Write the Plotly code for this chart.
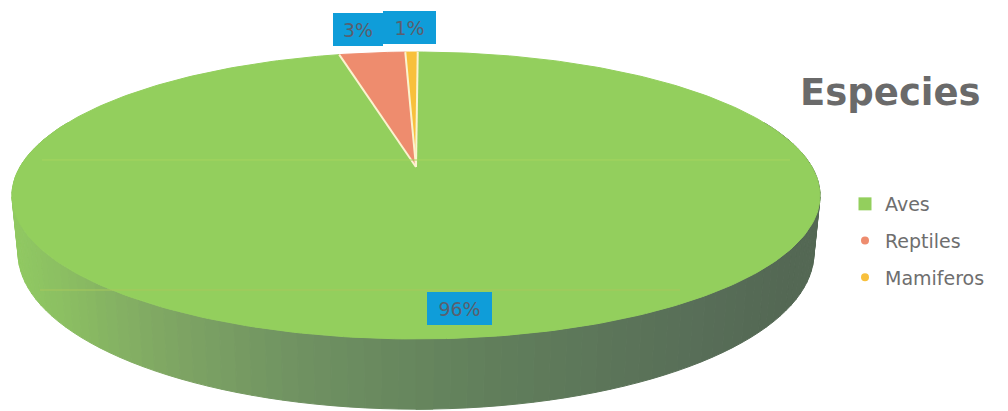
import math
import plotly.graph_objects as go

# Data
categories = ["Aves", "Reptiles", "Mamiferos"]
values = [96.2, 3.2, 0.6]
colors = ["#93cf5d", "#ee8c6e", "#f8c03c"]
legend_symbols = ["square", "circle", "circle"]
legend_sizes = [13, 8, 8]
title_text = "Especies"

# The page keeps an 8 px margin, so the figure covers 1000x403 of the window
OFF = 8
FW, FH = 1008 - OFF, 411 - OFF

# Projected disc geometry (pixel space of the axes)
CX, APEX_Y = 416, 167
A, B, P = 396, 137.8, 0.1986
BOTTOM_DY, BOTTOM_A, BOTTOM_B = 55, 390, 150
START_DEG = 0.3


def rim(deg, a=A, b=B, dy=0):
    t = math.radians(deg)
    u, v = math.sin(t), math.cos(t)
    d = 1 + P * v
    return CX + a * u / d, APEX_Y + dy - b * v / d


def lerp_color(stops, x):
    for (x0, c0), (x1, c1) in zip(stops, stops[1:]):
        if x0 <= x <= x1:
            f = (x - x0) / (x1 - x0)
            return "rgb(%d,%d,%d)" % tuple(c0[i] + (c1[i] - c0[i]) * f for i in range(3))
    return "rgb(%d,%d,%d)" % stops[-1][1]


wall_stops = [(0, (147, 205, 98)), (60, (140, 192, 98)), (160, (128, 168, 100)),
              (300, (112, 146, 98)), (480, (98, 128, 92)), (700, (88, 110, 88)),
              (790, (84, 104, 84)), (1008, (84, 104, 84))]

fig = go.Figure()

# Side wall, far-left/right segments first
for deg in list(range(70, 180, 2)) + list(range(290, 178, -2)):
    d0, d1 = (deg, deg + 2) if deg < 180 else (deg - 2, deg)
    p = [rim(d0), rim(d1), rim(d1, BOTTOM_A, BOTTOM_B, BOTTOM_DY), rim(d0, BOTTOM_A, BOTTOM_B, BOTTOM_DY)]
    xs = [q[0] for q in p] + [p[0][0]]
    ys = [q[1] for q in p] + [p[0][1]]
    col = lerp_color(wall_stops, sum(xs[:4]) / 4)
    fig.add_trace(go.Scatter(x=xs, y=ys, mode="lines", fill="toself", fillcolor=col,
                             line=dict(color=col, width=1), showlegend=False, hoverinfo="skip"))

# Top slices computed from the values
total = sum(values)
start = START_DEG
for name, val, col in zip(categories, values, colors):
    span = val / total * 360
    n = max(3, int(span))
    pts = [rim(start + span * i / n) for i in range(n + 1)]
    xs = [CX] + [q[0] for q in pts] + [CX]
    ys = [APEX_Y] + [q[1] for q in pts] + [APEX_Y]
    fig.add_trace(go.Scatter(x=xs, y=ys, mode="lines", fill="toself", fillcolor=col,
                             line=dict(color=col, width=1), showlegend=False, hoverinfo="skip"))
    start += span

# Light borders of the narrow slices
a1 = START_DEG + values[0] / total * 360
a2 = a1 + values[1] / total * 360
for ang in (a1, a2, START_DEG + 360):
    q = rim(ang)
    fig.add_trace(go.Scatter(x=[CX, q[0]], y=[APEX_Y, q[1]], mode="lines",
                             line=dict(color="#fbf3cf", width=2), showlegend=False, hoverinfo="skip"))

# Faint horizontal streaks across the pie
for y, x0, x1, col in [(160, 42, 790, "#a6d45e"), (290, 40, 680, "#a8c75c")]:
    fig.add_shape(type="line", x0=x0, x1=x1, y0=y, y1=y, line=dict(color=col, width=1))

# Legend keys
for name, col, sym, size in zip(categories, colors, legend_symbols, legend_sizes):
    fig.add_trace(go.Scatter(x=[None], y=[None], mode="markers", name=name, legendgroup=name,
                             marker=dict(color=col, symbol=sym, size=size)))

# Percent labels
label_pos = [(459.5, 308.5, 65, 33), (358, 29.5, 50, 33), (409.5, 27.5, 53, 33)]
for val, (x, y, w, h) in zip(values, label_pos):
    fig.add_annotation(x=x, y=y, text=f"{round(val)}%", showarrow=False, width=w, height=h,
                       bgcolor="#0f9dd9", valign="middle", align="center", borderpad=0, borderwidth=0,
                       font=dict(family="DejaVu Sans", size=19, color="#5a5f6e"))

fig.update_layout(
    width=FW, height=FH, autosize=False,
    margin=dict(l=0, r=0, t=0, b=0),
    paper_bgcolor="white", plot_bgcolor="white",
    xaxis=dict(range=[OFF, 1008], visible=False, fixedrange=True),
    yaxis=dict(range=[411, OFF], visible=False, fixedrange=True),
    title=dict(text=title_text, x=(800 - OFF) / FW, xanchor="left", y=1 - (92 - OFF) / FH, yanchor="middle",
               font=dict(family="DejaVu Sans", size=37, color="#6a6a6a", weight="bold")),
    legend=dict(x=(845 - OFF) / FW, y=1 - (185 - OFF) / FH, xanchor="left", yanchor="top",
                bgcolor="rgba(0,0,0,0)", tracegroupgap=9, itemwidth=30,
                font=dict(family="DejaVu Sans", size=19, color="#6e6e6e")),
)

fig.write_html("out.html")
